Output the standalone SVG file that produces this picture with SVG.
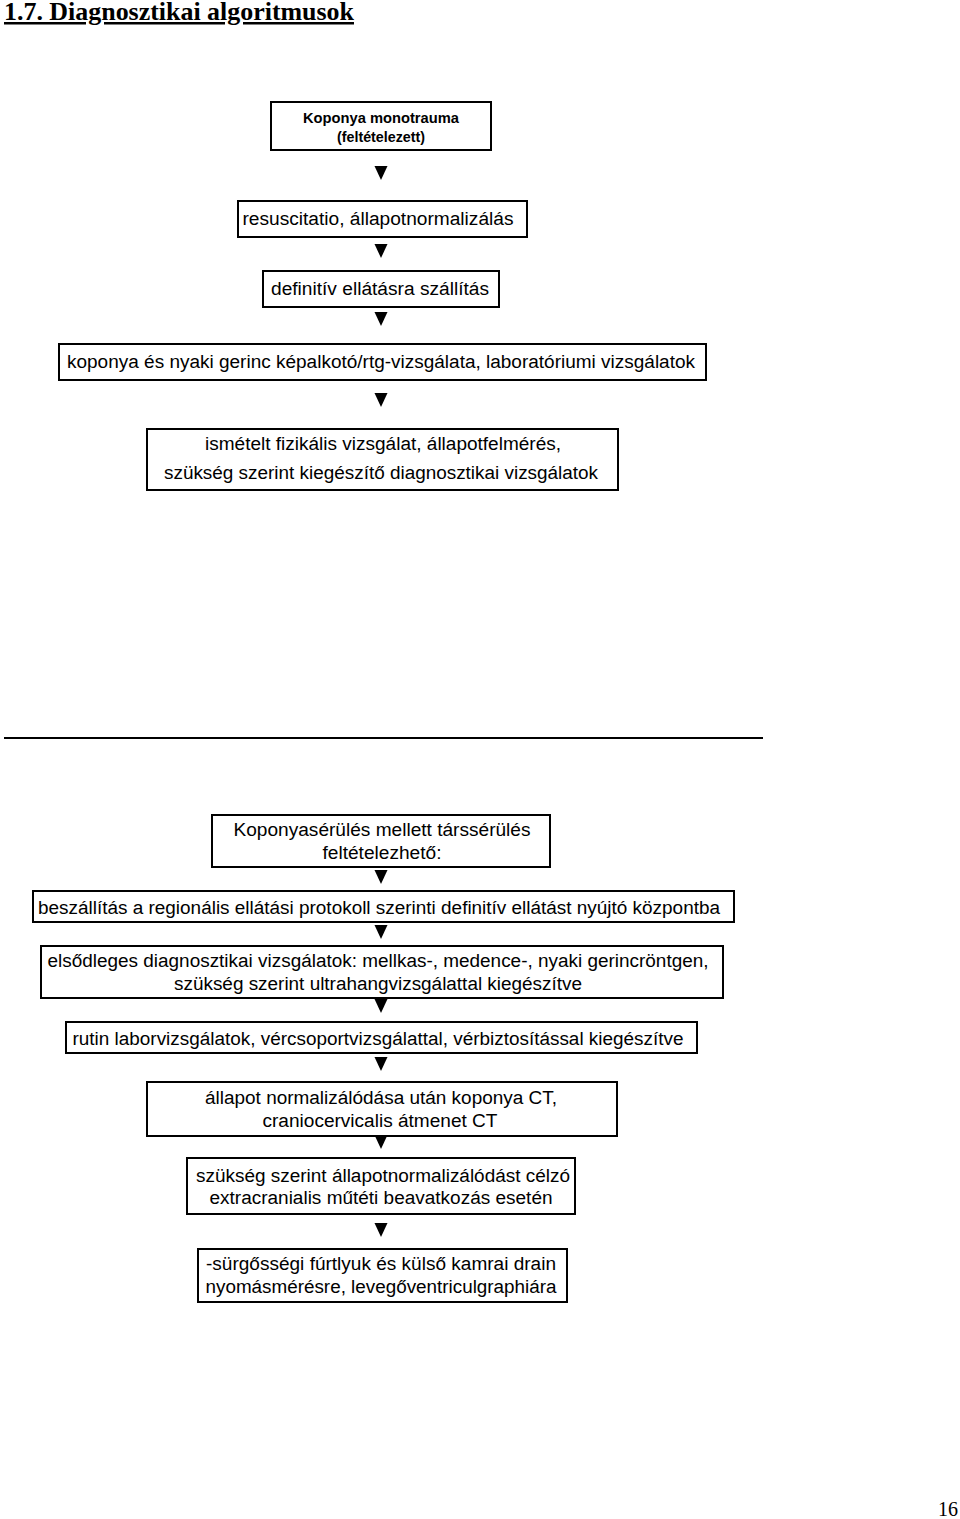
<svg xmlns="http://www.w3.org/2000/svg" xmlns:xlink="http://www.w3.org/1999/xlink" width="960" height="1519" viewBox="0 0 960 1519">
<style>
.box{fill:#fff;stroke:#000;stroke-width:2}
.t{font-family:"Liberation Sans",Arial,sans-serif;font-size:18px;fill:#000;text-anchor:middle}
.tb{font-family:"Liberation Sans",Arial,sans-serif;font-size:14px;font-weight:bold;fill:#000;text-anchor:middle}
.arr{fill:#000}
</style>
<defs>
<path id="tri" d="M-6.5,0 L6.5,0 L0,14 Z"/>
</defs>
<rect width="960" height="1519" fill="#fff"/>
<text x="4" y="20" font-family="Liberation Serif,serif" font-size="25" font-weight="bold" textLength="350" lengthAdjust="spacingAndGlyphs" text-decoration="underline">1.7.  Diagnosztikai algoritmusok</text>
<line x1="4" y1="738" x2="763" y2="738" stroke="#000" stroke-width="2"/>

<g id="connectors" class="arr">
<use xlink:href="#tri" x="381" y="166"/>
<use xlink:href="#tri" x="381" y="244"/>
<use xlink:href="#tri" x="381" y="312"/>
<use xlink:href="#tri" x="381" y="393"/>
<use xlink:href="#tri" x="381" y="870"/>
<use xlink:href="#tri" x="381" y="925"/>
<use xlink:href="#tri" x="381" y="999"/>
<use xlink:href="#tri" x="381" y="1057"/>
<use xlink:href="#tri" x="381" y="1135"/>
<use xlink:href="#tri" x="381" y="1223"/>
</g>

<g id="n1"><rect class="box" x="271" y="102" width="220" height="48"/>
<text class="tb" x="381" y="123" textLength="156" lengthAdjust="spacingAndGlyphs">Koponya monotrauma</text>
<text class="tb" x="381" y="142" textLength="88" lengthAdjust="spacingAndGlyphs">(feltételezett)</text></g>

<g id="n2"><rect class="box" x="238" y="201" width="289" height="36"/>
<text class="t" x="378" y="225" textLength="271" lengthAdjust="spacingAndGlyphs">resuscitatio, állapotnormalizálás</text></g>

<g id="n3"><rect class="box" x="263" y="271" width="236" height="36"/>
<text class="t" x="380" y="295" textLength="218" lengthAdjust="spacingAndGlyphs">definitív ellátásra szállítás</text></g>

<g id="n4"><rect class="box" x="59" y="344" width="647" height="36"/>
<text class="t" x="381" y="368" textLength="628" lengthAdjust="spacingAndGlyphs">koponya és nyaki gerinc képalkotó/rtg-vizsgálata, laboratóriumi vizsgálatok</text></g>

<g id="n5"><rect class="box" x="147" y="429" width="471" height="61"/>
<text class="t" x="383" y="450" textLength="356" lengthAdjust="spacingAndGlyphs">ismételt fizikális vizsgálat, állapotfelmérés,</text>
<text class="t" x="381" y="479" textLength="434" lengthAdjust="spacingAndGlyphs">szükség szerint kiegészítő diagnosztikai vizsgálatok</text></g>

<g id="n6"><rect class="box" x="212" y="815" width="338" height="52"/>
<text class="t" x="382" y="836" textLength="297" lengthAdjust="spacingAndGlyphs">Koponyasérülés mellett társsérülés</text>
<text class="t" x="382" y="859" textLength="119" lengthAdjust="spacingAndGlyphs">feltételezhető:</text></g>

<g id="n7"><rect class="box" x="33" y="891" width="701" height="31"/>
<text class="t" x="379" y="914" textLength="682" lengthAdjust="spacingAndGlyphs">beszállítás a regionális ellátási protokoll szerinti definitív ellátást nyújtó központba</text></g>

<g id="n8"><rect class="box" x="41" y="946" width="682" height="52"/>
<text class="t" x="378" y="967" textLength="661" lengthAdjust="spacingAndGlyphs">elsődleges diagnosztikai vizsgálatok: mellkas-, medence-, nyaki gerincröntgen,</text>
<text class="t" x="378" y="990" textLength="408" lengthAdjust="spacingAndGlyphs">szükség szerint ultrahangvizsgálattal kiegészítve</text></g>

<g id="n9"><rect class="box" x="66" y="1022" width="631" height="31"/>
<text class="t" x="378" y="1045" textLength="611" lengthAdjust="spacingAndGlyphs">rutin laborvizsgálatok, vércsoportvizsgálattal, vérbiztosítással kiegészítve</text></g>

<g id="n10"><rect class="box" x="147" y="1082" width="470" height="54"/>
<text class="t" x="381" y="1104" textLength="352" lengthAdjust="spacingAndGlyphs">állapot normalizálódása után koponya CT,</text>
<text class="t" x="380" y="1127" textLength="235" lengthAdjust="spacingAndGlyphs">craniocervicalis átmenet CT</text></g>

<g id="n11"><rect class="box" x="187" y="1158" width="388" height="56"/>
<text class="t" x="383" y="1182" textLength="374" lengthAdjust="spacingAndGlyphs">szükség szerint állapotnormalizálódást célzó</text>
<text class="t" x="381" y="1204" textLength="343" lengthAdjust="spacingAndGlyphs">extracranialis műtéti beavatkozás esetén</text></g>

<g id="n12"><rect class="box" x="198" y="1249" width="369" height="53"/>
<text class="t" x="381" y="1270" textLength="350" lengthAdjust="spacingAndGlyphs">-sürgősségi fúrtlyuk és külső kamrai drain</text>
<text class="t" x="381" y="1293" textLength="351" lengthAdjust="spacingAndGlyphs">nyomásmérésre, levegőventriculgraphiára</text></g>

<text x="958" y="1516" font-family="Liberation Serif,serif" font-size="20" text-anchor="end">16</text>
</svg>
